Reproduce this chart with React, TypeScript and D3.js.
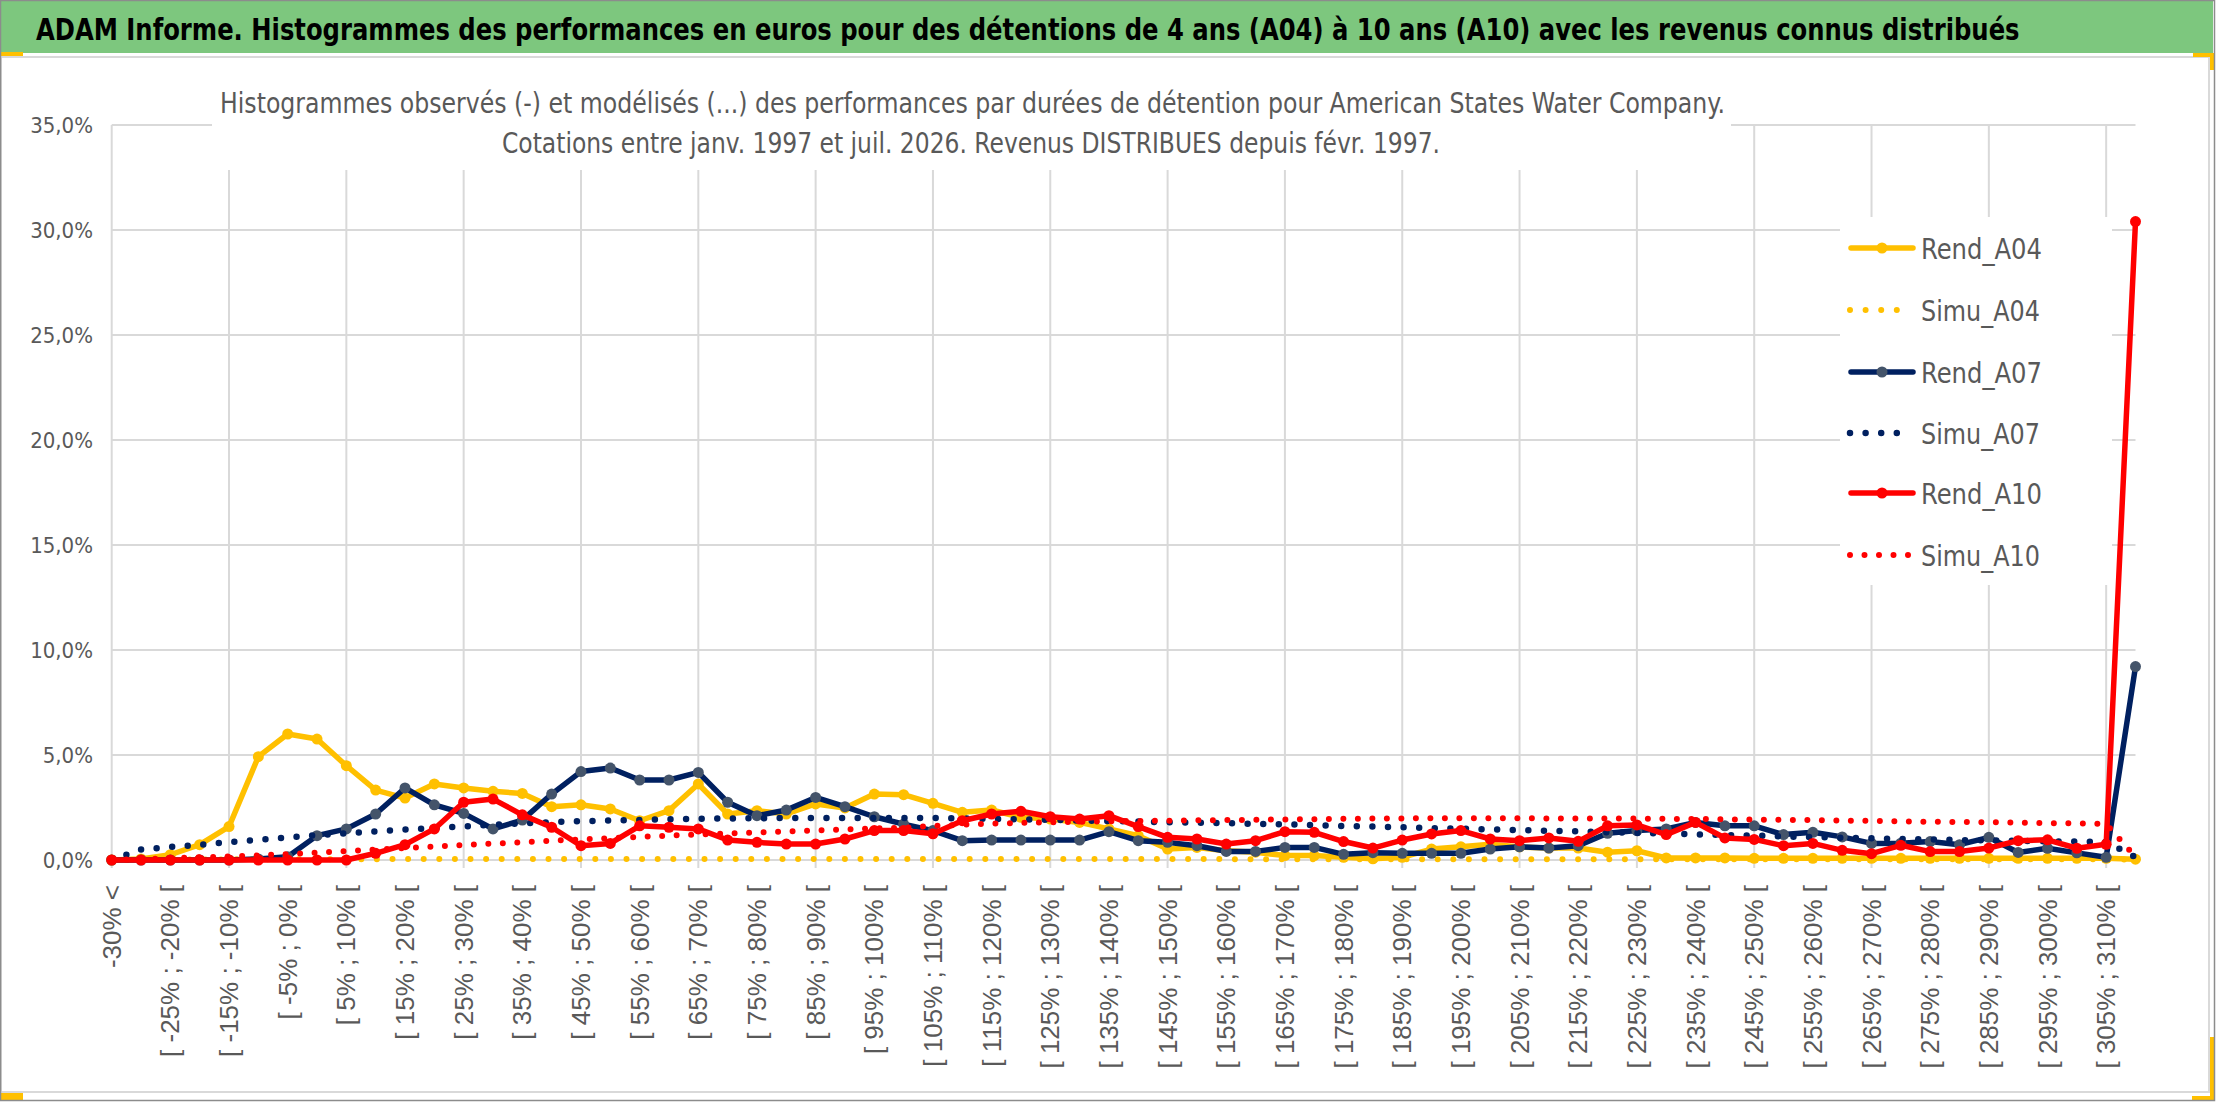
import React, { useLayoutEffect, useRef, useState } from "react";
import * as d3 from "d3";

const categories: string[] = [
  "-30% <",
  "[ -30% ; -25% [", "[ -25% ; -20% [", "[ -20% ; -15% [", "[ -15% ; -10% [", "[ -10% ; -5% [", "[ -5% ; 0% [",
  "[ 0% ; 5% [", "[ 5% ; 10% [", "[ 10% ; 15% [", "[ 15% ; 20% [", "[ 20% ; 25% [", "[ 25% ; 30% [",
  "[ 30% ; 35% [", "[ 35% ; 40% [", "[ 40% ; 45% [", "[ 45% ; 50% [", "[ 50% ; 55% [", "[ 55% ; 60% [",
  "[ 60% ; 65% [", "[ 65% ; 70% [", "[ 70% ; 75% [", "[ 75% ; 80% [", "[ 80% ; 85% [", "[ 85% ; 90% [",
  "[ 90% ; 95% [", "[ 95% ; 100% [", "[ 100% ; 105% [", "[ 105% ; 110% [", "[ 110% ; 115% [", "[ 115% ; 120% [",
  "[ 120% ; 125% [", "[ 125% ; 130% [", "[ 130% ; 135% [", "[ 135% ; 140% [", "[ 140% ; 145% [", "[ 145% ; 150% [",
  "[ 150% ; 155% [", "[ 155% ; 160% [", "[ 160% ; 165% [", "[ 165% ; 170% [", "[ 170% ; 175% [", "[ 175% ; 180% [",
  "[ 180% ; 185% [", "[ 185% ; 190% [", "[ 190% ; 195% [", "[ 195% ; 200% [", "[ 200% ; 205% [", "[ 205% ; 210% [",
  "[ 210% ; 215% [", "[ 215% ; 220% [", "[ 220% ; 225% [", "[ 225% ; 230% [", "[ 230% ; 235% [", "[ 235% ; 240% [",
  "[ 240% ; 245% [", "[ 245% ; 250% [", "[ 250% ; 255% [", "[ 255% ; 260% [", "[ 260% ; 265% [", "[ 265% ; 270% [",
  "[ 270% ; 275% [", "[ 275% ; 280% [", "[ 280% ; 285% [", "[ 285% ; 290% [", "[ 290% ; 295% [", "[ 295% ; 300% [",
  "[ 300% ; 305% [", "[ 305% ; 310% [",
  "310% >",
];

// values in percent
const rendA04: number[] = [
  0, 0.05, 0.25, 0.73, 1.59, 4.92, 6.0, 5.76, 4.49, 3.33,
  2.95, 3.62, 3.43, 3.27, 3.17, 2.54, 2.63, 2.43, 1.87, 2.35,
  3.62, 2.19, 2.35, 2.19, 2.67, 2.48, 3.14, 3.11, 2.7, 2.27,
  2.38, 2.03, 1.95, 1.79, 1.48, 1.16, 0.52, 0.6, 0.44, 0.37,
  0.21, 0.21, 0.13, 0.06, 0.13, 0.52, 0.63, 0.75, 0.62, 0.57,
  0.57, 0.37, 0.44, 0.1, 0.1, 0.1, 0.08, 0.08, 0.08, 0.08,
  0.08, 0.08, 0.08, 0.08, 0.08, 0.08, 0.08, 0.08, 0.08, 0.04,
];
const simuA04: number[] = [
  0, 0.01, 0.02, 0.02, 0.03, 0.03, 0.03, 0.04, 0.04, 0.04,
  0.05, 0.05, 0.05, 0.05, 0.05, 0.05, 0.05, 0.05, 0.05, 0.05,
  0.05, 0.05, 0.05, 0.05, 0.05, 0.05, 0.05, 0.05, 0.05, 0.05,
  0.05, 0.05, 0.05, 0.05, 0.05, 0.05, 0.05, 0.05, 0.04, 0.04,
  0.04, 0.04, 0.04, 0.04, 0.04, 0.04, 0.03, 0.03, 0.03, 0.03,
  0.03, 0.03, 0.03, 0.03, 0.03, 0.03, 0.03, 0.03, 0.03, 0.03,
  0.03, 0.03, 0.03, 0.03, 0.03, 0.03, 0.03, 0.03, 0.03, 0.02,
];
const rendA07: number[] = [
  0, 0, 0, 0, 0, 0.05, 0.15, 1.16, 1.48, 2.19,
  3.43, 2.63, 2.22, 1.48, 1.9, 3.14, 4.21, 4.38, 3.81, 3.81,
  4.17, 2.75, 2.11, 2.38, 2.98, 2.54, 2.06, 1.71, 1.4, 0.92,
  0.95, 0.95, 0.95, 0.95, 1.35, 0.92, 0.84, 0.68, 0.41, 0.41,
  0.6, 0.6, 0.27, 0.35, 0.32, 0.32, 0.32, 0.52, 0.63, 0.57,
  0.68, 1.27, 1.4, 1.48, 1.79, 1.63, 1.63, 1.21, 1.32, 1.1,
  0.79, 0.8, 0.88, 0.73, 1.08, 0.36, 0.56, 0.34, 0.13, 9.21,
];
const simuA07: number[] = [
  0, 0.5, 0.62, 0.72, 0.85, 0.96, 1.07, 1.18, 1.27, 1.36,
  1.45, 1.53, 1.6, 1.68, 1.75, 1.8, 1.85, 1.88, 1.91, 1.94,
  1.96, 1.98, 1.99, 2.0, 2.0, 2.0, 2.0, 2.0, 2.0, 1.98,
  1.96, 1.93, 1.91, 1.88, 1.86, 1.83, 1.8, 1.78, 1.75, 1.72,
  1.7, 1.66, 1.62, 1.59, 1.56, 1.52, 1.49, 1.46, 1.42, 1.39,
  1.36, 1.32, 1.29, 1.26, 1.22, 1.19, 1.16, 1.12, 1.09, 1.06,
  1.03, 1.0, 0.98, 0.95, 0.93, 0.91, 0.89, 0.88, 0.86, 0.14,
];
const rendA10: number[] = [
  0, 0, 0, 0, 0, 0, 0, 0, 0, 0.32,
  0.73, 1.48, 2.75, 2.9, 2.15, 1.56, 0.68, 0.79, 1.63, 1.56,
  1.48, 0.95, 0.84, 0.76, 0.76, 1.0, 1.4, 1.4, 1.25, 1.87,
  2.19, 2.32, 2.06, 1.95, 2.11, 1.59, 1.08, 1.0, 0.76, 0.92,
  1.35, 1.32, 0.88, 0.57, 0.95, 1.24, 1.4, 1.0, 0.92, 1.05,
  0.89, 1.63, 1.67, 1.21, 1.79, 1.05, 0.98, 0.68, 0.79, 0.46,
  0.3, 0.7, 0.4, 0.4, 0.57, 0.92, 0.96, 0.56, 0.75, 30.4,
];
const simuA10: number[] = [
  0, 0.04, 0.08, 0.13, 0.17, 0.22, 0.28, 0.35, 0.42, 0.5,
  0.57, 0.64, 0.71, 0.78, 0.85, 0.92, 0.98, 1.04, 1.1, 1.16,
  1.21, 1.26, 1.31, 1.36, 1.41, 1.45, 1.5, 1.54, 1.62, 1.68,
  1.73, 1.77, 1.8, 1.82, 1.84, 1.86, 1.87, 1.89, 1.9, 1.92,
  1.93, 1.94, 1.96, 1.98, 1.98, 1.99, 1.99, 1.99, 1.99, 1.98,
  1.98, 1.98, 1.97, 1.96, 1.95, 1.94, 1.92, 1.91, 1.9, 1.88,
  1.86, 1.84, 1.82, 1.81, 1.8, 1.78, 1.76, 1.74, 1.72, 0.14,
];

const yTicks: number[] = [0, 5, 10, 15, 20, 25, 30, 35];
const yTickLabels: string[] = ["0,0%", "5,0%", "10,0%", "15,0%", "20,0%", "25,0%", "30,0%", "35,0%"];

const titleText =
  "ADAM Informe. Histogrammes des performances en euros pour des détentions de 4 ans (A04) à 10 ans (A10) avec les revenus connus distribués";
const subtitle1 =
  "Histogrammes observés (-) et modélisés (...) des performances par durées de détention pour American States Water Company.";
const subtitle2 = "Cotations entre janv. 1997 et juil. 2026. Revenus DISTRIBUES depuis févr. 1997.";

const YELLOW = "#FFC000";
const NAVY = "#002060";
const NAVY_MARK = "#44546A";
const RED = "#FF0000";
const GRID = "#D9D9D9";
const TXT = "#595959";

type Series = {
  name: string;
  values: number[];
  color: string;
  marker?: string;
  dotted: boolean;
  dotW?: number;
  period?: number;
};

const series: Series[] = [
  { name: "Rend_A04", values: rendA04, color: YELLOW, marker: YELLOW, dotted: false },
  { name: "Simu_A04", values: simuA04, color: YELLOW, dotted: true, dotW: 6, period: 15.6 },
  { name: "Rend_A07", values: rendA07, color: NAVY, marker: NAVY_MARK, dotted: false },
  { name: "Simu_A07", values: simuA07, color: NAVY, dotted: true, dotW: 6.5, period: 15.6 },
  { name: "Rend_A10", values: rendA10, color: RED, marker: RED, dotted: false },
  { name: "Simu_A10", values: simuA10, color: RED, dotted: true, dotW: 6, period: 14.5 },
];

const W = 2216;
const H = 1102;
const narrow = "'Liberation Sans Narrow', 'DejaVu Sans Condensed', 'Liberation Sans', sans-serif";

export default function App() {
  const x = d3.scalePoint<string>().domain(categories).range([111.7, 2135.5]);
  const y = d3.scaleLinear().domain([0, 35]).range([860, 125]);
  const line = d3
    .line<number>()
    .x((_, i) => x(categories[i]) as number)
    .y((d) => y(d));

  const x0 = 111.7;
  const x1 = 2135.5;
  const legendY = [248, 310, 372, 433, 493, 555];
  const legendLen = [121, 119, 121, 119, 121, 119];

  const titleRef = useRef<SVGTextElement>(null);
  const [titleScale, setTitleScale] = useState(1);
  useLayoutEffect(() => {
    if (titleRef.current) {
      const len = titleRef.current.getComputedTextLength();
      if (len > 0) setTitleScale(1985 / len);
    }
  }, []);

  return (
    <svg
      width={W}
      height={H}
      viewBox={`0 0 ${W} ${H}`}
      style={{ position: "absolute", left: 0, top: 0, background: "#fff" }}
    >
      <rect x={0} y={0} width={W} height={H} fill="#fff" />
      {/* title band */}
      <rect x={0} y={0} width={2213} height={53} fill="#7DC77E" />
      <text
        ref={titleRef}
        transform={`translate(36,40) scale(${titleScale},1)`}
        x={0}
        y={0}
        fontFamily={narrow}
        fontWeight="bold"
        fontSize={31}
        fill="#000"
      >
        {titleText}
      </text>
      {/* chart area border */}
      <rect x={1} y={57} width={2208} height={1035} fill="none" stroke={GRID} strokeWidth={2} />

      {/* horizontal gridlines */}
      {yTicks.map((t) => (
        <line key={"h" + t} x1={x0} x2={x1} y1={y(t)} y2={y(t)} stroke={GRID} strokeWidth={2} />
      ))}
      {/* vertical gridlines every 4 categories */}
      {categories.map((c, i) =>
        i % 4 === 0 ? (
          <line
            key={"v" + i}
            x1={x(c)}
            x2={x(c)}
            y1={y(35)}
            y2={y(0) + 8}
            stroke={GRID}
            strokeWidth={2}
          />
        ) : null
      )}

      {/* y labels */}
      {yTicks.map((t, i) => (
        <text
          key={"yl" + t}
          x={93}
          y={y(t)}
          textAnchor="end"
          dominantBaseline="central"
          fontFamily={narrow}
          fontSize={22}
          fill={TXT}
        >
          {yTickLabels[i]}
        </text>
      ))}

      {/* x labels */}
      {categories.map((c, i) =>
        i % 2 === 0 ? (
          <text
            key={"xl" + i}
            transform={`translate(${x(c)},885) rotate(-90)`}
            textAnchor="end"
            dominantBaseline="central"
            fontFamily="'Liberation Sans', Arial, sans-serif"
            fontSize={26}
            fill={TXT}
          >
            {c}
          </text>
        ) : null
      )}

      {/* series */}
      {series.map((s) => (
        <g key={s.name}>
          {s.dotted ? (
            <path
              d={line(s.values) || ""}
              fill="none"
              stroke={s.color}
              strokeWidth={s.dotW}
              strokeLinecap="round"
              strokeDasharray={`0 ${s.period}`}
            />
          ) : (
            <>
              <path
                d={line(s.values) || ""}
                fill="none"
                stroke={s.color}
                strokeWidth={5.5}
                strokeLinejoin="round"
                strokeLinecap="round"
              />
              {s.values.map((v, i) => (
                <circle key={i} cx={x(categories[i])} cy={y(v)} r={5.5} fill={s.marker} />
              ))}
            </>
          )}
        </g>
      ))}

      {/* subtitle box */}
      <rect x={212} y={62} width={1519} height={108} fill="#fff" />
      <text
        x={220}
        y={113}
        fontFamily={narrow}
        fontSize={28}
        fill={TXT}
        textLength={1505}
        lengthAdjust="spacingAndGlyphs"
      >
        {subtitle1}
      </text>
      <text
        x={502}
        y={153}
        fontFamily={narrow}
        fontSize={28}
        fill={TXT}
        textLength={938}
        lengthAdjust="spacingAndGlyphs"
      >
        {subtitle2}
      </text>

      {/* legend */}
      <rect x={1840} y={217} width={272} height={368} fill="#fff" />
      {series.map((s, k) => {
        const ly = legendY[k];
        return (
          <g key={"lg" + s.name}>
            {s.dotted ? (
              <line
                x1={1850}
                x2={1902 + (s.period === 14.5 ? 8 : 0)}
                y1={ly}
                y2={ly}
                stroke={s.color}
                strokeWidth={s.dotW}
                strokeLinecap="round"
                strokeDasharray={`0 ${s.period}`}
              />
            ) : (
              <>
                <line x1={1851} x2={1913} y1={ly} y2={ly} stroke={s.color} strokeWidth={5.5} strokeLinecap="round" />
                <circle cx={1882} cy={ly} r={5.5} fill={s.marker} />
              </>
            )}
            <text
              x={1921}
              y={ly + 10.5}
              fontFamily={narrow}
              fontSize={29}
              fill={TXT}
              textLength={legendLen[k]}
              lengthAdjust="spacingAndGlyphs"
            >
              {s.name}
            </text>
          </g>
        );
      })}

      {/* selection handles */}
      <rect x={0} y={52} width={23} height={4} fill={YELLOW} />
      <rect x={2193} y={53} width={20} height={4} fill={YELLOW} />
      <rect x={2210} y={53} width={4} height={17} fill={YELLOW} />
      <rect x={0} y={1093} width={23} height={7} fill={YELLOW} />
      <rect x={2192} y={1096} width={22} height={4} fill={YELLOW} />
      <rect x={2210} y={1037} width={4} height={63} fill={YELLOW} />

      {/* outer frame */}
      <rect x={0.5} y={0.5} width={2214} height={1100} fill="none" stroke="#8C8C8C" strokeWidth={1.5} />
    </svg>
  );
}
